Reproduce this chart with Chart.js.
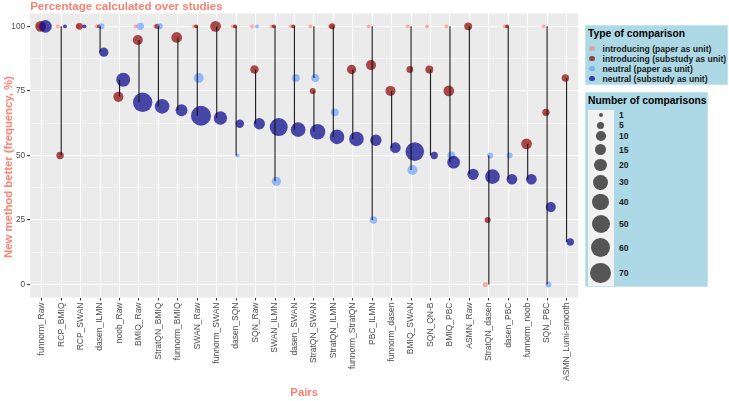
<!DOCTYPE html>
<html lang="en">
<head>
<meta charset="UTF-8">
<title>Percentage calculated over studies</title>
<script src="https://cdn.jsdelivr.net/npm/chart.js"></script>
<style>
  body { margin: 0; background: #fff; }
  #wrap { position: relative; width: 729px; height: 401px; font-family: "Liberation Sans", Arial, sans-serif; }
  canvas { position: absolute; left: 0; top: 0; }
  #yTitle { position: absolute; left: 8px; top: 167px; transform: translate(-50%, -50%) rotate(-90deg);
    color: #FA8072; font-weight: bold; font-size: 11.3px; white-space: nowrap; }
  .legend { position: absolute; background: #ADD8E6; border: 1px solid #C4E4EE; box-sizing: border-box; }
  .legend .ttl { position: absolute; left: 2px; font-weight: bold; font-size: 10.3px; line-height: 12px; color: #000; white-space: nowrap; }
  .legend .item { position: absolute; font-weight: bold; font-size: 8.6px; line-height: 10px; color: #1a1a1a; white-space: nowrap; }
  .legend .dot { position: absolute; border-radius: 50%; }
  .legend .keybg { position: absolute; background: #F2F2F2; }
</style>
</head>
<body>
<div id="wrap">
  <canvas id="chart" width="729" height="401"></canvas>
  <div id="yTitle">New method better (frequency, %)</div>
  <div class="legend" id="legType" style="left:585px;top:25px;width:143px;height:60px;"></div>
  <div class="legend" id="legSize" style="left:585px;top:92px;width:123px;height:195px;"></div>
</div>
<script>
// pairs, ordered as on the x axis
const pairs = ['funnorm_Raw', 'RCP_BMIQ', 'RCP_SWAN', 'dasen_ILMN', 'noob_Raw', 'BMIQ_Raw', 'StratQN_BMIQ',
  'funnorm_BMIQ', 'SWAN_Raw', 'funnorm_SWAN', 'dasen_SQN', 'SQN_Raw', 'SWAN_ILMN', 'dasen_SWAN',
  'StratQN_SWAN', 'StratQN_ILMN', 'funnorm_StratQN', 'PBC_ILMN', 'funnorm_dasen', 'BMIQ_SWAN', 'SQN_QN-B',
  'BMIQ_PBC', 'ASMN_Raw', 'StratQN_dasen', 'dasen_PBC', 'funnorm_noob', 'SQN_PBC', 'ASMN_Lumi-smooth'];

// % new method better, and number of comparisons, per type
const introPaperPct = [100, 100, 100, 100, null, 100, 100, null, 100, null, 100, 100, 100, 100, 100, 100, null, 100, null, 100, 100, 100, null, 0, 100, null, 100, null];
const introPaperN   = [1, 1, 1, 1, null, 1, 1, null, 1, null, 1, 1, 1, 1, 1, 1, null, 1, null, 1, 1, 1, null, 2, 1, null, 1, null];
const introSubPct   = [100, 50, 100, 100, 72.7, 94.7, 100, 95.7, 100, 100, 100, 83.3, 100, 100, 75, 100, 83.3, 85, 75, 83.3, 83.3, 75, 100, 25, 100, 54.5, 66.7, 80];
const introSubN     = [13, 5, 4, 1, 11, 11, 2, 13, 1, 13, 1, 7, 1, 1, 3, 3, 9, 11, 11, 4, 6, 13, 6, 3, 1, 13, 5, 5];
const neutralPaperPct = [null, null, null, 100, null, 100, 100, null, 80, null, 50, 100, 40, 80, 80, 66.7, null, 25, null, 44.4, null, 50, null, 50, 50, null, 0, null];
const neutralPaperN   = [null, null, null, 3, null, 5, 3, null, 11, null, 1, 1, 9, 6, 6, 6, null, 5, null, 11, null, 6, null, 3, 3, null, 3, null];
const neutralSubPct = [100, 100, 100, 90, 79.3, 70.6, 69, 67.5, 65.4, 64.5, 62.3, 62.3, 61, 60, 59.2, 57.2, 56.4, 55.9, 53, 51.5, 50, 47.4, 42.7, 41.8, 40.8, 40.8, 30, 16.5];
const neutralSubN   = [20, 1, 1, 9, 26, 60, 29, 17, 65, 23, 7, 15, 50, 29, 33, 29, 29, 15, 13, 54, 5, 20, 15, 29, 13, 13, 11, 5];

const yTicks = [0, 12.5, 25, 37.5, 50, 62.5, 75, 87.5, 100];
const sizeBreaks = [1, 5, 10, 15, 20, 30, 40, 50, 60, 70];
const typeLabels = ['introducing (paper as unit)', 'introducing (substudy as unit)', 'neutral (paper as unit)', 'neutral (substudy as unit)'];

const typeColors = ['rgba(250,128,114,0.6)', 'rgba(139,0,0,0.7)', 'rgba(90,150,255,0.6)', 'rgba(0,0,139,0.7)'];
const salmon = '#FA8072';
const family = '"Liberation Sans", Arial, sans-serif';
const dodge = [-0.18, -0.06, 0.07, 0.19];

const rOf = n => 1.98 * Math.pow(n, 0.388);

function bubbles(pct, n, k) {
  const out = [];
  pairs.forEach((p, i) => {
    if (pct[i] === null) return;
    out.push({ x: i + 1 + dodge[k], y: pct[i], r: rOf(n[i]) });
  });
  return out;
}

// vertical segments: paper-level pair and substudy-level pair for each x
function segments() {
  const out = [];
  pairs.forEach((p, i) => {
    const x = i + 1;
    if (introPaperPct[i] !== null && neutralPaperPct[i] !== null) {
      out.push({ x: x, y: introPaperPct[i] }, { x: x, y: neutralPaperPct[i] }, { x: x, y: null });
    }
    out.push({ x: x, y: introSubPct[i] }, { x: x, y: neutralSubPct[i] }, { x: x, y: null });
  });
  return out;
}

const panelBg = {
  id: 'panelBg',
  beforeDraw(chart) {
    const { ctx, chartArea: a } = chart;
    ctx.save();
    ctx.fillStyle = '#EBEBEB';
    ctx.fillRect(a.left, a.top, a.right - a.left, a.bottom - a.top);
    ctx.restore();
  }
};

const pts = [
  bubbles(introPaperPct, introPaperN, 0),
  bubbles(introSubPct, introSubN, 1),
  bubbles(neutralPaperPct, neutralPaperN, 2),
  bubbles(neutralSubPct, neutralSubN, 3)
];

new Chart(document.getElementById('chart'), {
  type: 'bubble',
  data: {
    datasets: [
      { type: 'line', data: segments(), borderColor: 'rgba(15,15,15,0.92)', borderWidth: 1.15, pointRadius: 0, spanGaps: false, fill: false, order: 0 },
      { label: typeLabels[3], data: pts[3], backgroundColor: typeColors[3], borderWidth: 0, order: 1 },
      { label: typeLabels[2], data: pts[2], backgroundColor: typeColors[2], borderWidth: 0, order: 2 },
      { label: typeLabels[1], data: pts[1], backgroundColor: typeColors[1], borderWidth: 0, order: 3 },
      { label: typeLabels[0], data: pts[0], backgroundColor: typeColors[0], borderWidth: 0, order: 4 }
    ]
  },
  options: {
    responsive: false,
    animation: false,
    devicePixelRatio: 1,
    events: [],
    layout: { padding: { left: 0.14, right: 150.79, top: 0, bottom: 0 } },
    plugins: {
      legend: { display: false },
      tooltip: { enabled: false },
      title: {
        display: true, text: 'Percentage calculated over studies', align: 'start', fullSize: false,
        color: salmon, font: { family: family, size: 11.5, weight: 'bold', lineHeight: 1.17 },
        padding: { top: 0, bottom: 0 }
      }
    },
    scales: {
      x: {
        type: 'linear', min: 0.4, max: 28.6,
        afterBuildTicks: s => { s.ticks = pairs.map((p, i) => ({ value: i + 1 })); },
        afterFit: s => { s.height = 103.5; },
        ticks: {
          autoSkip: false, minRotation: 90, maxRotation: 90, padding: 2,
          color: '#4D4D4D', font: { family: family, size: 8.5 },
          callback: v => pairs[v - 1]
        },
        grid: { color: '#FFFFFF', lineWidth: 1, tickLength: 3, tickColor: '#333333' },
        border: { display: false },
        title: {
          display: true, text: 'Pairs', color: salmon,
          font: { family: family, size: 11.3, weight: 'bold' }, padding: { top: 0, bottom: 1 }
        }
      },
      y: {
        type: 'linear', min: -5, max: 105,
        afterBuildTicks: s => { s.ticks = yTicks.map(v => ({ value: v })); },
        afterFit: s => { s.width = 30; },
        ticks: {
          padding: 2, color: '#4D4D4D', font: { family: family, size: 8.3 },
          callback: v => (v % 25 === 0 ? String(v) : '')
        },
        grid: {
          color: '#FFFFFF', tickLength: 3,
          lineWidth: c => (c.tick && c.tick.value % 25 === 0 ? 1.1 : 0.5),
          tickColor: c => (c.tick && c.tick.value % 25 === 0 ? '#333333' : 'rgba(0,0,0,0)')
        },
        border: { display: false }
      }
    }
  },
  plugins: [panelBg]
});

// legend: type of comparison
const legType = document.getElementById('legType');
legType.innerHTML = '<div class="ttl" style="top:2px;">Type of comparison</div>';
typeLabels.forEach((t, i) => {
  const cy = 22.5 + i * 10;
  const r = 2.6;
  legType.innerHTML += '<div class="dot" style="left:' + (6 - r) + 'px;top:' + (cy - r) + 'px;width:' + (2 * r) + 'px;height:' + (2 * r) + 'px;background:' + typeColors[i] + ';"></div>' +
    '<div class="item" style="left:16.5px;top:' + (cy - 5) + 'px;">' + t + '</div>';
});

// legend: number of comparisons
const legSize = document.getElementById('legSize');
const sizeY = [22.3, 32.3, 43.3, 56.7, 72, 89.3, 109, 130.7, 154.7, 180];
legSize.innerHTML = '<div class="ttl" style="top:1.5px;">Number of comparisons</div>' +
  '<div class="keybg" style="left:1.5px;top:16.5px;width:26px;height:176px;"></div>';
sizeBreaks.forEach((n, i) => {
  const r = rOf(n);
  const cy = sizeY[i];
  legSize.innerHTML += '<div class="dot" style="left:' + (14.7 - r) + 'px;top:' + (cy - r) + 'px;width:' + (2 * r) + 'px;height:' + (2 * r) + 'px;background:#555555;"></div>' +
    '<div class="item" style="left:33px;top:' + (cy - 5) + 'px;">' + n + '</div>';
});
</script>
</body>
</html>
